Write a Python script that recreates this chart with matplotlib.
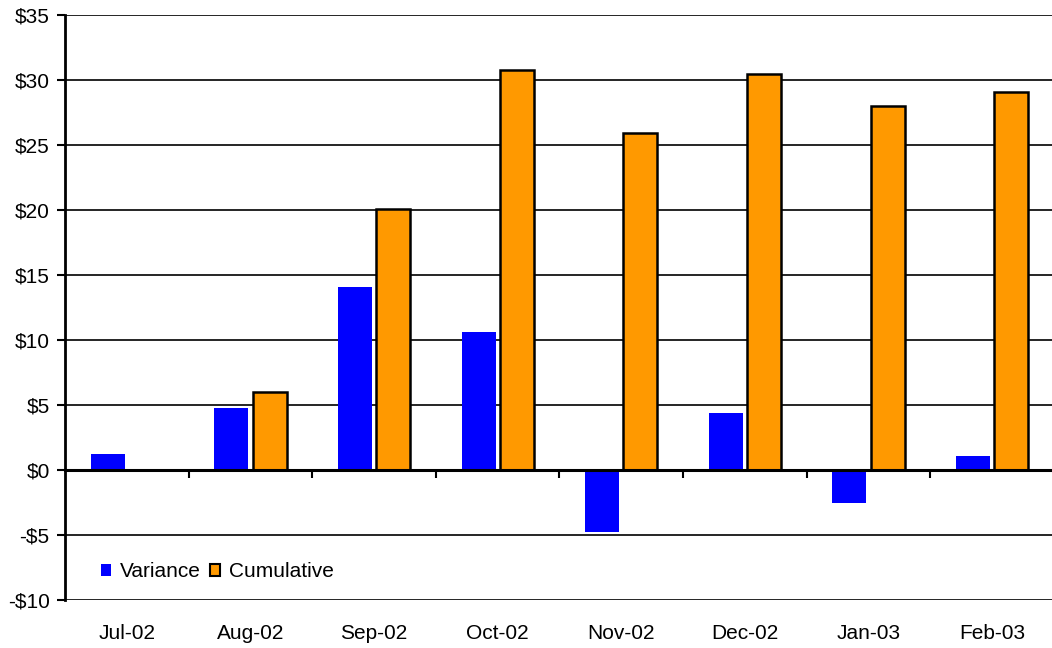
import matplotlib
matplotlib.use("Agg")
import matplotlib.pyplot as plt
import numpy as np
from matplotlib.patches import Patch
from matplotlib.ticker import FuncFormatter

months = ["Jul-02", "Aug-02", "Sep-02", "Oct-02", "Nov-02", "Dec-02", "Jan-03", "Feb-03"]
variance = [1.2, 4.8, 14.1, 10.6, -4.8, 4.4, -2.5, 1.1]
cumulative = [0.0, 6.0, 20.1, 30.8, 25.9, 30.5, 28.0, 29.1]
y_ticks = [-10, -5, 0, 5, 10, 15, 20, 25, 30, 35]

plt.rcParams["font.family"] = ["Liberation Sans", "DejaVu Sans"]
FS = 15

fig = plt.figure(figsize=(10.52, 6.48), dpi=100)
ax = fig.add_axes([65 / 1052, 1 - 600 / 648, 989 / 1052, 585 / 648])

x = np.arange(len(months))
width = 0.275
ax.bar(x - 0.155, variance, width, color="#0000ff", edgecolor="none", zorder=3)
ax.bar(x + 0.155, cumulative, width, color="#ff9900", edgecolor="black",
       linewidth=1.8, zorder=3)

ax.set_xlim(-0.5, len(months) - 0.5)
ax.set_ylim(-10, 35)
ax.set_yticks(y_ticks)
ax.yaxis.set_major_formatter(FuncFormatter(lambda v, _: f"-${-v:.0f}" if v < 0 else f"${v:.0f}"))
ax.tick_params(axis="y", direction="out", length=6, width=1.5, labelsize=FS, pad=5)
ax.grid(axis="y", color="black", linewidth=1.2, zorder=1)

for side in ("top", "right"):
    ax.spines[side].set_visible(False)
ax.spines["left"].set_linewidth(2)
ax.spines["bottom"].set_position(("data", 0))
ax.spines["bottom"].set_linewidth(2.2)
ax.spines["bottom"].set_zorder(4)

ax.set_xticks(x)
ax.set_xticklabels([])
ax.tick_params(axis="x", which="major", length=0)
ax.set_xticks(np.arange(0.5, len(months) - 0.5, 1), minor=True)
ax.tick_params(axis="x", which="minor", direction="out", length=6, width=1.5)

for i, m in enumerate(months):
    ax.text(i, -0.058, m, transform=ax.get_xaxis_transform(), ha="center",
            va="center", fontsize=FS)

handles = [Patch(facecolor="#0000ff", edgecolor="none", label="Variance"),
           Patch(facecolor="#ff9900", edgecolor="black", linewidth=1.5, label="Cumulative")]
ax.legend(handles=handles, loc="lower left", bbox_to_anchor=(0.017, 0.0), frameon=False,
          fontsize=FS, ncol=2, handlelength=0.5, handleheight=0.5,
          handletextpad=0.45, columnspacing=0.4)

fig.savefig("out.png", dpi=100)
